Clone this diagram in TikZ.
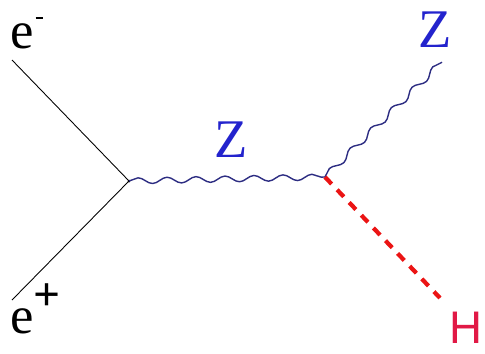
\documentclass[tikz,border=0pt]{standalone}
\usepackage{fontspec}
\setmainfont{Liberation Serif}
\newfontfamily\hfont{Liberation Sans}
\usetikzlibrary{decorations.pathmorphing}
\definecolor{zblue}{RGB}{35,35,205}
\definecolor{wline}{RGB}{45,45,130}
\definecolor{hred}{RGB}{225,25,70}
\definecolor{dred}{RGB}{235,20,20}
\begin{document}
\begin{tikzpicture}[x=0.02cm,y=-0.02cm,
  fermion/.style={draw=black,line width=0.5pt},
  boson/.style={draw=wline,line width=0.8pt,decorate,decoration={snake,segment length=0.58cm,amplitude=0.06cm}},
  higgs/.style={draw=dred,line width=2.4pt,dash pattern=on 5.5pt off 4.5pt},
  lbl/.style={inner sep=0pt,font=\fontsize{30}{33}\selectfont},
  zlbl/.style={inner sep=0pt,text=zblue,font=\fontsize{31}{34}\selectfont},
  hlbl/.style={inner sep=0pt,text=hred,font=\hfont\fontsize{26}{30}\selectfont}]
\useasboundingbox (0,0) rectangle (485,353);
\coordinate (a) at (12,60);
\coordinate (b) at (12,300);
\coordinate (v1) at (129,181);
\coordinate (v2) at (325,177);
\coordinate (zend) at (442,62);
\coordinate (hend) at (440,298);
\draw[fermion] (a) -- (v1);
\draw[fermion] (b) -- (v1);
\fill (v1) circle (1.5);
\path[boson] (v1) -- (v2);
\path[boson] (v2) -- (zend);
\draw[higgs] (v2) -- (hend);
\node[lbl,anchor=base west] (em) at (10,48) {e\kern1pt\rule[16.5pt]{4.5pt}{0.9pt}};
\node[lbl,anchor=base west] (ep) at (10,333) {e\smash{\raisebox{0.42em}{\fontsize{27}{29}\selectfont\textbf{+}}}};
\node[zlbl] (z1) at (231,140) {Z};
\node[zlbl] (z2) at (435,30) {Z};
\node[hlbl] (h) at (466,328) {H};
\end{tikzpicture}
\end{document}
